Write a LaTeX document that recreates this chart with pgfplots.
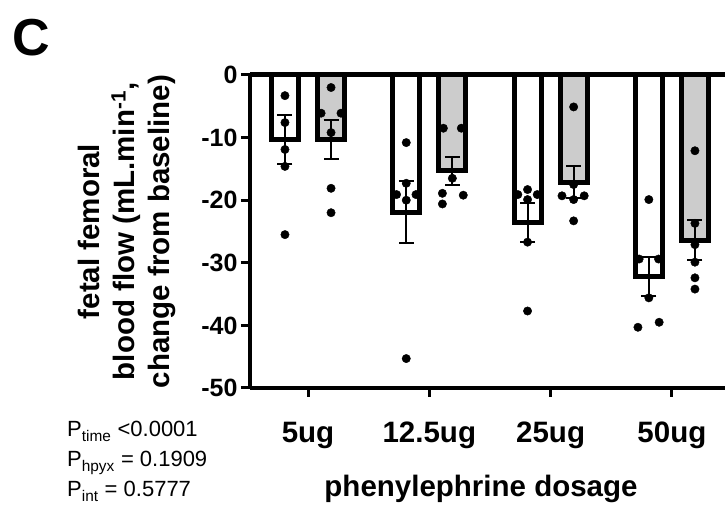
\documentclass[border=0pt]{standalone}
\usepackage{fontspec}
\setmainfont{Liberation Sans}
\usepackage{pgfplots}
\pgfplotsset{compat=1.18}

% group means (bars) with SEM, control = white, hypoxia = grey
% x: 1 = 5ug, 2 = 12.5ug, 3 = 25ug, 4 = 50ug
\pgfplotsset{
  animal dots/.style={only marks, mark=*, mark size=4.2pt, black, mark options={fill=black, draw=black}},
  sem bars/.style={draw=none, mark=none, forget plot,
    error bars/.cd, y dir=both, y explicit,
    error bar style={line width=2pt, black},
    error mark=-,
    error mark options={rotate=90, line width=2pt, mark size=7.5pt, black}},
}

\begin{document}
\begin{tikzpicture}[x=1pt,y=1pt]
% the axis box has its lower left corner at (0,0)
\useasboundingbox (-250,388) rectangle (475,-117);

\node[anchor=base west, inner sep=0pt, font=\bfseries\fontsize{52}{52}\selectfont] at (-238,332) {C};

\begin{axis}[
  name=ax,
  scale only axis, width=475pt, height=313pt,
  xmin=0.5218, xmax=4.4378, ymin=-50, ymax=0,
  axis x line*=bottom, axis y line*=left,
  axis line style={line width=4.5pt, black},
  xtick={1,2,3,4}, xticklabels={5ug,12.5ug,25ug,50ug},
  ytick={-50,-40,-30,-20,-10,0}, yticklabels={-50,-40,-30,-20,-10,0},
  tick align=outside, major tick length=9pt,
  tick style={line width=3pt, black},
  x tick label style={font=\bfseries\fontsize{29.5}{30}\selectfont, anchor=base, yshift=-46pt},
  y tick label style={font=\bfseries\fontsize{25}{26}\selectfont},
  clip=false,
]
% baseline at zero
\draw[line width=5pt, black] (rel axis cs:0,1) -- (rel axis cs:1,1);

% control bars
\addplot[ybar, bar width=27pt, bar shift=-23pt, fill=white, draw=black, line width=5pt]
  coordinates {(1,-10.3) (2,-21.9) (3,-23.5) (4,-32.2)};
% hypoxia bars
\addplot[ybar, bar width=27pt, bar shift=23pt, fill=gray!40, draw=black, line width=5pt]
  coordinates {(1,-10.3) (2,-15.3) (3,-17.1) (4,-26.4)};

% individual animals, control
\addplot[animal dots] coordinates {
  (0.81,-3.3) (0.81,-7.6) (0.81,-11.9) (0.81,-14.6) (0.81,-25.5)
  (1.81,-10.8) (1.81,-17.3) (1.73,-19.1) (1.89,-19.1) (1.81,-20.0) (1.81,-45.3)
  (2.81,-18.3) (2.73,-19.1) (2.89,-19.1) (2.81,-19.9) (2.81,-26.7) (2.81,-37.7)
  (3.81,-19.9) (3.73,-29.4) (3.89,-29.4) (3.81,-35.6) (3.72,-40.3) (3.895,-39.5)
};
% individual animals, hypoxia
\addplot[animal dots] coordinates {
  (1.19,-2.0) (1.108,-6.1) (1.272,-6.1) (1.19,-9.2) (1.19,-18.1) (1.19,-22.0)
  (2.116,-8.5) (2.264,-8.5) (2.19,-16.5) (2.108,-18.9) (2.28,-19.2) (2.108,-20.6)
  (3.19,-5.1) (3.19,-17.5) (3.094,-19.3) (3.277,-19.3) (3.19,-19.9) (3.19,-23.3)
  (4.19,-12.1) (4.19,-23.7) (4.19,-27.1) (4.19,-29.9) (4.19,-32.4) (4.19,-34.2)
};

% SEM, control then hypoxia
\addplot[sem bars] coordinates {(0.81,-10.3) +- (0,3.85) (1.81,-21.9) +- (0,4.95) (2.81,-23.5) +- (0,3.1) (3.81,-32.2) +- (0,3.1)};
\addplot[sem bars] coordinates {(1.19,-10.3) +- (0,3.15) (2.19,-15.3) +- (0,2.2) (3.19,-17.1) +- (0,2.5) (4.19,-26.4) +- (0,3.2)};
\end{axis}

\node[rotate=90, align=center, font=\bfseries\fontsize{29.5}{35}\selectfont] at (-123,156.5)
  {fetal femoral\\blood flow (mL.min\textsuperscript{-1},\\change from baseline)};

\node[anchor=base, font=\bfseries\fontsize{29.5}{30}\selectfont] at (231,-109) {phenylephrine dosage};

\begin{scope}[font=\fontsize{22}{22}\selectfont]
\node[anchor=base west, inner sep=0pt] at (-183,-49) {P\textsubscript{time} <0.0001};
\node[anchor=base west, inner sep=0pt] at (-183,-79) {P\textsubscript{hpyx} = 0.1909};
\node[anchor=base west, inner sep=0pt] at (-183,-109) {P\textsubscript{int} = 0.5777};
\end{scope}
\end{tikzpicture}
\end{document}
